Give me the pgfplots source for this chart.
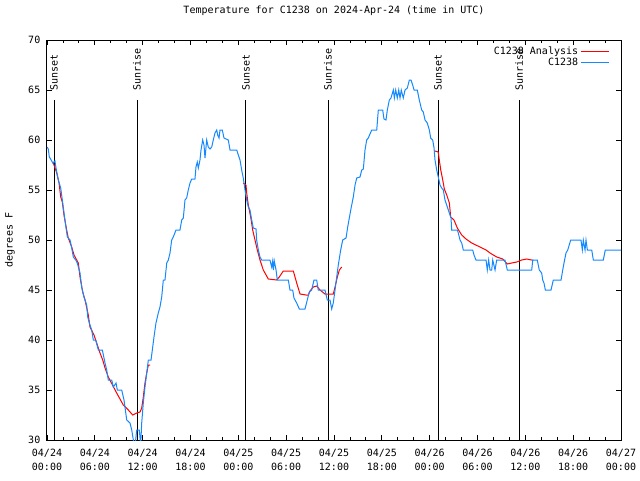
\documentclass[border=0pt]{standalone}
\usepackage{pgfplots}
\pgfplotsset{compat=1.18}
\usepackage{fontspec}
\setmainfont{DejaVu Sans Mono}
\definecolor{obsblue}{RGB}{20,136,255}
\definecolor{anared}{RGB}{255,0,0}
\begin{document}
\begin{tikzpicture}
\useasboundingbox (-35.25pt,-30pt) rectangle (444.75pt,330pt);
\begin{axis}[
  at={(0,0)}, anchor=south west,
  scale only axis, width=430.5pt, height=300pt,
  xmin=0, xmax=72, ymin=30, ymax=70,
  xtick={0,6,...,72},
  xticklabels={{04/24\\00:00},{04/24\\06:00},{04/24\\12:00},{04/24\\18:00},{04/25\\00:00},{04/25\\06:00},{04/25\\12:00},{04/25\\18:00},{04/26\\00:00},{04/26\\06:00},{04/26\\12:00},{04/26\\18:00},{04/27\\00:00}},
  minor x tick num=2,
  ytick={30,35,...,70},
  tick align=inside,
  major tick length=3.75pt, minor tick length=1.9pt,
  every tick/.style={black, line width=0.6pt},
  axis line style={black, line width=0.75pt},
  /pgf/number format/assume math mode=true,
  font=\fontsize{7.5}{9.75}\selectfont,
  xticklabel style={align=center, font=\fontsize{7.5}{10}\selectfont, yshift=-3.5pt},
  yticklabel style={font=\fontsize{7.5}{9.75}\selectfont, xshift=-1.5pt},
  title={Temperature for C1238 on 2024-Apr-24 (time in UTC)},
  title style={at={(0.5,1)}, anchor=center, yshift=15.75pt, font=\fontsize{7.5}{9.75}\selectfont},
  ylabel={degrees F},
  ylabel style={at={(axis description cs:-0.0645,0.5)}, anchor=center, font=\fontsize{7.5}{9.75}\selectfont},
  legend style={draw=none, fill=none, at={(1,1)}, anchor=north east, xshift=-5pt, yshift=-1pt, font=\fontsize{7.5}{8}\selectfont, row sep=-2.8pt},
  legend plot pos=right,
  legend cell align=right,
  legend image code/.code={\draw[line width=0.9pt,#1] (0cm,0cm) -- (0.74cm,0cm);},
]
\addlegendimage{draw=anared}
\addlegendentry{C1238 Analysis}
\addlegendimage{draw=obsblue}
\addlegendentry{C1238}
% vertical sun lines
\draw[black, line width=0.75pt] (axis cs:0.88,30) -- (axis cs:0.88,64);
\draw[black, line width=0.75pt] (axis cs:11.29,30) -- (axis cs:11.29,64);
\draw[black, line width=0.75pt] (axis cs:24.96,30) -- (axis cs:24.96,64);
\draw[black, line width=0.75pt] (axis cs:35.25,30) -- (axis cs:35.25,64);
\draw[black, line width=0.75pt] (axis cs:49.05,30) -- (axis cs:49.05,64);
\draw[black, line width=0.75pt] (axis cs:59.21,30) -- (axis cs:59.21,64);
\node[rotate=90, anchor=west, inner sep=0pt, xshift=0.8pt] at (axis cs:0.88,64.8) {Sunset};
\node[rotate=90, anchor=west, inner sep=0pt, xshift=0.8pt] at (axis cs:11.29,64.8) {Sunrise};
\node[rotate=90, anchor=west, inner sep=0pt, xshift=0.8pt] at (axis cs:24.96,64.8) {Sunset};
\node[rotate=90, anchor=west, inner sep=0pt, xshift=0.8pt] at (axis cs:35.25,64.8) {Sunrise};
\node[rotate=90, anchor=west, inner sep=0pt, xshift=0.8pt] at (axis cs:49.05,64.8) {Sunset};
\node[rotate=90, anchor=west, inner sep=0pt, xshift=0.8pt] at (axis cs:59.21,64.8) {Sunrise};

% Analysis (red), three segments
\addplot[anared, line width=0.75pt, forget plot] coordinates {
(0.79,57.7)(1.22,56.7)(1.51,55.7)(1.72,54.3)(1.92,53.8)(2.13,52.5)(2.47,51.0)(2.67,50.2)
(3.10,49.3)(3.39,48.5)(3.93,47.7)(4.14,46.3)(4.48,44.8)(4.77,44.0)(5.18,42.5)(5.39,41.3)
(5.90,40.5)(6.23,39.7)(6.65,38.7)(6.99,38.0)(7.28,37.2)(7.69,36.3)(8.74,34.7)(9.57,33.5)
(10.20,33.0)(10.75,32.5)(11.25,32.7)(11.67,32.8)(11.88,33.2)(12.08,34.3)(12.29,35.7)
(12.51,36.7)(12.71,37.5)(12.92,37.5)
};
\addplot[anared, line width=0.75pt, forget plot] coordinates {
(24.62,55.7)(24.96,55.5)(25.05,54.7)(25.25,53.5)(25.55,52.3)(25.80,51.0)(26.09,50.0)
(26.38,49.0)(26.72,48.0)(27.13,47.0)(27.76,46.1)(28.81,46.0)(29.14,46.3)(29.64,46.9)
(30.90,46.9)(31.32,45.7)(31.74,44.6)(32.49,44.5)(32.78,44.5)(32.99,44.9)(33.40,45.3)
(33.83,45.4)(34.24,45.0)(34.87,44.6)(35.91,44.6)(36.13,45.3)(36.42,46.3)(36.67,47.0)(36.97,47.3)
};
\addplot[anared, line width=0.75pt, forget plot] coordinates {
(48.67,58.9)(49.08,58.8)(49.21,58.0)(49.39,57.0)(49.64,56.0)(49.84,55.1)(50.14,54.5)
(50.47,53.7)(50.64,52.3)(51.05,52.0)(51.47,51.2)(52.02,50.5)(52.56,50.1)(53.27,49.7)
(54.31,49.3)(55.07,49.0)(55.57,48.7)(56.41,48.3)(57.16,48.1)(57.74,47.6)(58.29,47.7)
(58.92,47.8)(59.55,48.0)(60.17,48.1)(60.80,48.0)(61.00,48.0)
};

% Observations (blue)
\addplot[obsblue, line width=0.75pt, forget plot] coordinates {
(0.00,59.3)(0.16,59.1)(0.29,58.3)(0.46,58.1)(0.72,57.7)(1.00,57.9)(1.13,57.2)(1.42,56.0)
(1.72,55.2)(2.04,53.3)(2.30,51.7)(2.55,50.3)(2.89,50.0)(3.10,49.2)(3.30,48.3)(3.60,48.0)
(3.80,47.7)(4.14,46.7)(4.35,45.3)(4.64,44.3)(4.98,43.5)(5.11,42.3)(5.31,41.7)(5.61,41.0)
(5.81,40.0)(6.11,40.0)(6.44,39.0)(6.94,39.0)(7.28,37.7)(7.49,37.0)(7.69,36.0)(8.12,36.0)
(8.32,35.3)(8.66,35.7)(8.82,35.0)(9.37,35.0)(9.66,34.0)(10.00,32.0)(10.41,31.7)(10.63,31.0)
(10.83,30.0)(11.04,29.3)(11.25,31.0)(11.58,31.0)(11.75,29.5)(11.88,31.7)(12.08,33.7)
(12.29,35.3)(12.51,36.7)(12.71,38.0)(13.05,38.0)(13.26,39.3)(13.42,40.3)(13.67,41.7)
(13.96,42.7)(14.17,43.3)(14.39,44.3)(14.59,46.0)(14.80,46.0)(15.02,47.7)(15.22,48.0)
(15.43,48.7)(15.64,50.0)(15.84,50.3)(16.18,51.0)(16.68,51.0)(16.90,52.0)(17.10,52.2)
(17.31,54.0)(17.52,54.2)(17.72,55.0)(17.94,55.7)(18.15,56.1)(18.56,56.1)(18.69,57.3)
(18.85,57.8)(18.98,57.2)(19.19,58.0)(19.32,59.0)(19.53,60.0)(19.69,59.5)(19.82,58.2)
(20.03,60.0)(20.23,59.3)(20.45,59.1)(20.66,59.3)(20.86,60.0)(21.07,60.7)(21.29,61.0)
(21.41,60.5)(21.58,60.2)(21.70,61.0)(21.99,61.0)(22.20,60.2)(22.74,60.0)(22.96,59.0)
(23.80,59.0)(24.00,58.5)(24.21,58.0)(24.42,57.0)(24.62,56.2)(24.84,55.0)(25.05,54.0)
(25.25,53.3)(25.46,53.0)(25.68,52.0)(25.88,51.2)(26.22,51.1)(26.30,50.0)(26.51,49.0)
(26.72,48.3)(26.93,48.0)(27.97,48.0)(28.18,47.3)(28.31,47.9)(28.39,47.0)(28.51,47.9)
(28.73,47.0)(28.89,46.0)(30.27,46.0)(30.48,45.0)(30.82,45.0)(30.98,44.2)(31.32,43.7)
(31.65,43.1)(32.36,43.1)(32.65,44.0)(32.90,44.8)(33.20,45.0)(33.49,46.0)(33.83,46.0)
(34.03,45.0)(34.87,45.0)(35.16,44.0)(35.50,44.0)(35.71,43.1)(35.91,43.7)(36.13,45.0)
(36.34,46.3)(36.54,47.5)(36.84,49.0)(37.09,50.0)(37.51,50.2)(37.72,51.3)(38.10,53.0)
(38.42,54.3)(38.64,55.5)(38.85,56.2)(39.26,56.3)(39.48,57.0)(39.68,57.1)(39.89,59.0)
(40.10,60.0)(40.30,60.2)(40.73,61.0)(41.36,61.0)(41.56,63.0)(42.11,63.0)(42.27,62.1)
(42.52,62.0)(42.69,63.0)(42.94,64.0)(43.15,64.2)(43.44,65.0)(43.57,64.2)(43.74,65.0)
(43.94,64.2)(44.12,65.0)(44.28,64.2)(44.44,65.0)(44.69,64.2)(44.91,65.0)(45.20,65.2)
(45.45,66.0)(45.66,66.0)(45.87,65.5)(46.04,65.0)(46.45,65.0)(46.70,64.0)(47.00,63.0)
(47.20,62.8)(47.42,62.0)(47.70,61.7)(47.96,61.0)(48.13,60.2)(48.38,60.0)(48.55,59.2)
(48.67,58.0)(48.88,57.0)(49.08,56.3)(49.30,55.5)(49.51,55.2)(49.71,55.0)(49.92,54.0)
(50.34,53.0)(50.68,52.2)(50.76,51.0)(51.47,51.0)(51.59,50.7)(51.81,50.0)(52.02,49.7)
(52.22,49.0)(53.40,49.0)(53.56,48.5)(53.81,48.0)(55.07,48.0)(55.23,47.0)(55.40,48.0)
(55.57,47.0)(55.78,47.0)(55.91,48.0)(56.20,47.0)(56.41,48.0)(57.45,48.0)(57.74,47.0)
(60.80,47.0)(60.93,48.0)(61.50,48.0)(61.75,47.0)(62.05,46.7)(62.18,46.0)(62.34,45.7)
(62.51,45.0)(63.22,45.0)(63.51,46.0)(64.48,46.0)(64.69,47.0)(64.85,47.7)(65.10,48.7)
(65.32,49.0)(65.69,50.0)(66.98,50.0)(67.15,49.0)(67.27,50.0)(67.49,49.0)(67.61,50.0)
(67.78,49.0)(68.33,49.0)(68.53,48.0)(69.78,48.0)(70.03,49.0)(72.00,49.0)
};
\end{axis}
\end{tikzpicture}
\end{document}
